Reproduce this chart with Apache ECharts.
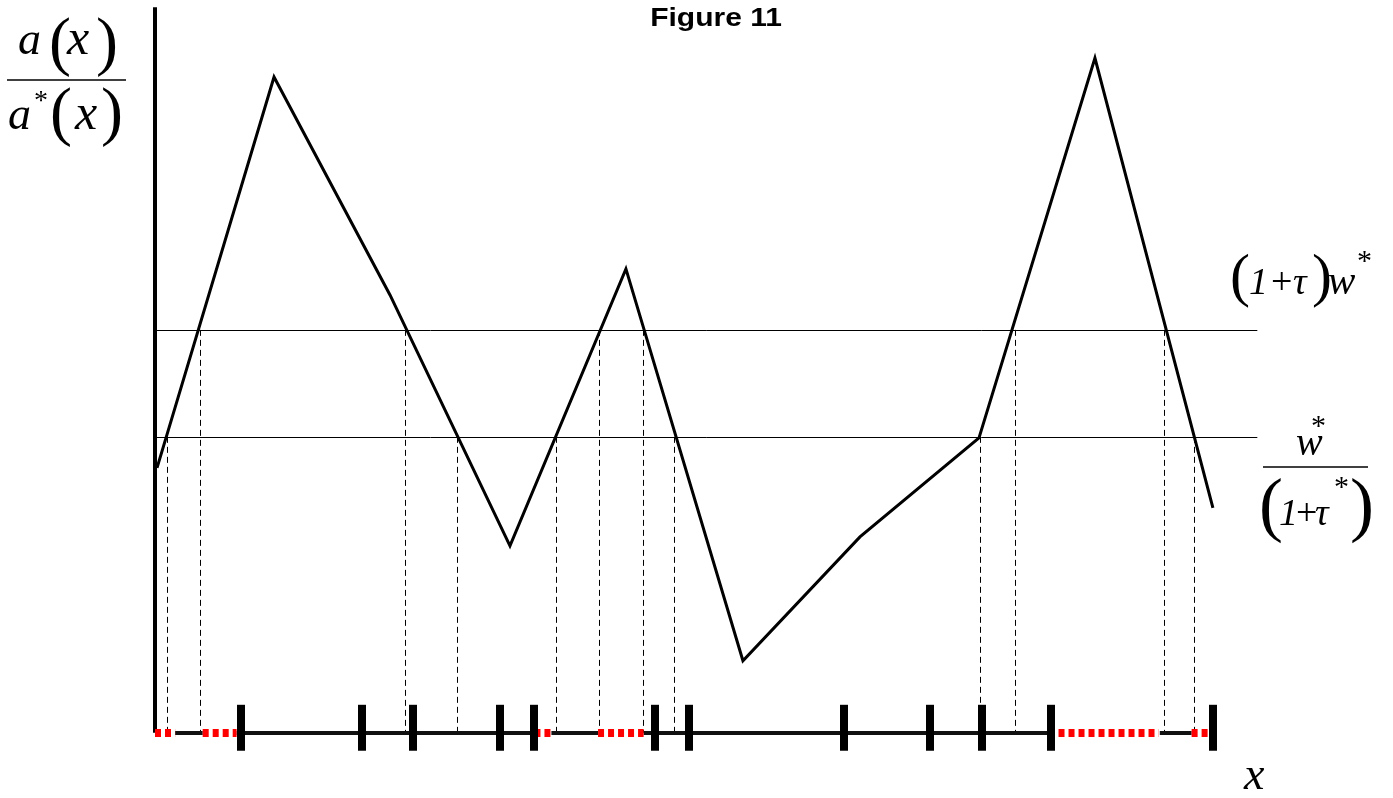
<!DOCTYPE html>
<html>
<head>
<meta charset="utf-8">
<title>Figure 11</title>
<script src="https://cdn.jsdelivr.net/npm/echarts@6/dist/echarts.min.js"></script>
<style>
  html, body { margin: 0; padding: 0; background: #fff; }
  #chart { width: 1393px; height: 798px; }
</style>
</head>
<body>
<div id="chart"></div>
<script>
// Ratio a(x)/a*(x) along x (schematic units, x: 0..100, y: 0..100)
const curveX = [0.19, 11.23, 22.17, 33.49, 44.43, 55.47, 66.51, 77.74, 88.68, 99.81];
const curveY = [36.55, 90.48, 60.41, 25.79, 64.0, 9.93, 27.03, 40.69, 93.1, 31.03];

// Threshold levels: (1+τ)w* and w*/(1+τ*)
const levelValues = [55.59, 40.83];
const levelEndX = 104;

// Points where the curve crosses a threshold, with the level each drop starts from
const dropX     = [1.13, 4.25, 23.58, 28.49, 37.83, 41.89, 46.04, 48.96, 77.83, 81.13, 95.19, 98.02];
const dropLevel = [1,    0,    0,     1,     1,     0,     0,     1,     1,     0,     0,     1];

// Interval boundaries marked on the x axis
const tickX = [8.11, 19.53, 24.34, 32.55, 35.75, 47.17, 50.38, 65.0, 73.11, 78.02, 84.53, 99.81];
const tickUp = 3.86, tickDown = -2.48;

// Axis intervals drawn solid black and dotted red
const solidStart = [1.9, 7.7, 37.4, 46.1, 94.8];
const solidEnd   = [4.5, 35.8, 41.8, 84.4, 97.8];
const dottedStart = [0, 4.5, 35.8, 41.8, 84.3, 97.8];
const dottedEnd   = [1.9, 7.7, 37.4, 46.1, 94.7, 99.5];

const chart = echarts.init(document.getElementById('chart'), null, { renderer: 'canvas' });

const segs = (a, b, y) => a.map((s, i) => ({ coords: [[s, y], [b[i], y]] }));

const SERIF = 'Liberation Serif';
// Single glyph placed by its left edge and baseline
function glyph(x, baseline, text, size, italic) {
  return {
    type: 'text',
    x: x,
    y: baseline - 0.245 * size,
    silent: true,
    style: {
      text: text,
      fill: '#000',
      fontFamily: SERIF,
      fontSize: size,
      fontStyle: italic ? 'italic' : 'normal',
      align: 'left',
      verticalAlign: 'middle'
    }
  };
}
function rule(x1, x2, y) {
  return { type: 'line', silent: true, shape: { x1: x1, y1: y, x2: x2, y2: y },
           style: { stroke: '#000', lineWidth: 1.5 } };
}

const graphics = [
  {
    type: 'text', x: 716, y: 19, scaleX: 1.2, silent: true,
    style: { text: 'Figure 11', fill: '#000', fontFamily: 'Liberation Sans',
             fontWeight: 'bold', fontSize: 25, align: 'center', verticalAlign: 'middle' }
  },
  // a(x) / a*(x)
  glyph(18, 53, 'a', 46, true),
  glyph(49, 62, '(', 66, false),
  glyph(67, 53, 'x', 50, true),
  glyph(96, 62, ')', 66, false),
  rule(7, 126, 80),
  glyph(8, 128, 'a', 46, true),
  glyph(34, 109, '*', 28, false),
  glyph(50, 132, '(', 66, false),
  glyph(75, 128, 'x', 50, true),
  glyph(101, 132, ')', 66, false),
  // (1+τ)w*
  glyph(1230, 294, '(', 60, false),
  glyph(1249, 293, '1', 38, true),
  glyph(1271, 293, '+', 38, false),
  glyph(1293, 293, 'τ', 38, true),
  glyph(1312, 294, ')', 60, false),
  glyph(1328, 293, 'w', 41, true),
  glyph(1357, 269, '*', 30, false),
  // w* / (1+τ*)
  glyph(1296, 454, 'w', 40, true),
  glyph(1311, 434, '*', 30, false),
  rule(1263, 1368, 467),
  glyph(1259, 527, '(', 72, false),
  glyph(1279, 524, '1', 38, true),
  glyph(1296, 524, '+', 38, false),
  glyph(1315, 524, 'τ', 38, true),
  glyph(1334, 495, '*', 30, false),
  glyph(1350, 527, ')', 72, false),
  // x axis name
  glyph(1244, 788, 'x', 46, true)
];

const option = {
  animation: false,
  backgroundColor: '#ffffff',
  grid: { left: 155, right: 0, top: 8, bottom: 0 },
  xAxis: { type: 'value', min: 0, max: 116.8, show: false },
  yAxis: { type: 'value', min: -9, max: 100, show: false },
  graphic: graphics,
  series: [
    {
      name: 'drops',
      type: 'lines',
      coordinateSystem: 'cartesian2d',
      silent: true,
      z: 1,
      lineStyle: { color: '#000', width: 1, type: [6, 4], opacity: 1 },
      data: dropX.map((x, i) => ({ coords: [[x, levelValues[dropLevel[i]]], [x, 0]] }))
    },
    {
      name: 'levels',
      type: 'lines',
      coordinateSystem: 'cartesian2d',
      silent: true,
      z: 2,
      lineStyle: { color: '#000', width: 1, type: 'solid', opacity: 1 },
      data: levelValues.map(v => ({ coords: [[0, v], [levelEndX, v]] }))
    },
    {
      name: 'ratio',
      type: 'line',
      silent: true,
      z: 3,
      symbol: 'none',
      lineStyle: { color: '#000', width: 3, join: 'miter' },
      data: curveX.map((x, i) => [x, curveY[i]])
    },
    {
      name: 'vertical axis',
      type: 'lines',
      coordinateSystem: 'cartesian2d',
      silent: true,
      z: 4,
      lineStyle: { color: '#000', width: 4, opacity: 1 },
      data: [{ coords: [[0, 0], [0, 100.1]] }]
    },
    {
      name: 'axis solid',
      type: 'lines',
      coordinateSystem: 'cartesian2d',
      silent: true,
      z: 4,
      lineStyle: { color: '#111', width: 4, opacity: 1 },
      data: segs(solidStart, solidEnd, 0)
    },
    {
      name: 'axis dotted',
      type: 'lines',
      coordinateSystem: 'cartesian2d',
      silent: true,
      z: 5,
      lineStyle: { color: '#ff0000', width: 8, type: [6, 4], cap: 'butt', opacity: 1 },
      data: segs(dottedStart, dottedEnd, 0)
    },
    {
      name: 'ticks',
      type: 'lines',
      coordinateSystem: 'cartesian2d',
      silent: true,
      z: 6,
      lineStyle: { color: '#000', width: 8, cap: 'butt', opacity: 1 },
      data: tickX.map(x => ({ coords: [[x, tickUp], [x, tickDown]] }))
    }
  ]
};

chart.setOption(option);
</script>
</body>
</html>
